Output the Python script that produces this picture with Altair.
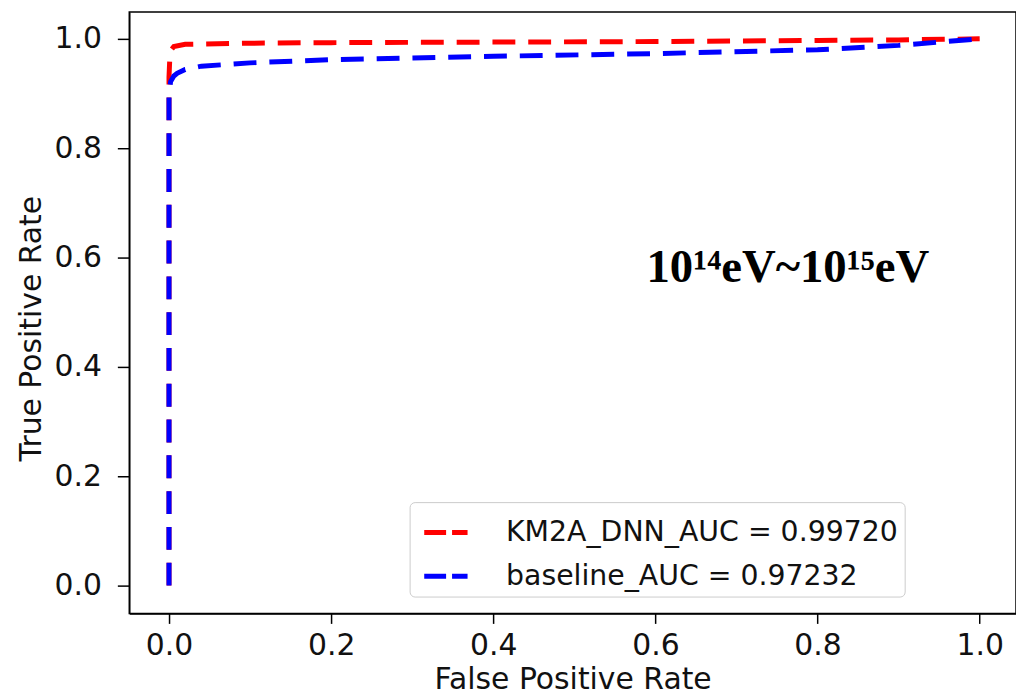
import altair as alt
import pandas as pd

# ROC curve points
dnn_fpr = [0.0, 0.0, 0.001, 0.003, 0.006, 0.02, 0.1, 0.2, 0.4, 0.6, 0.8, 0.9, 1.0]
dnn_tpr = [0.0, 0.93, 0.965, 0.980, 0.986, 0.990, 0.992, 0.993, 0.994, 0.995, 0.997, 0.998, 1.0]
base_fpr = [0.0, 0.0, 0.002, 0.006, 0.01, 0.02, 0.04, 0.1, 0.2, 0.4, 0.6, 0.8, 0.9, 1.0]
base_tpr = [0.0, 0.90, 0.922, 0.932, 0.937, 0.944, 0.950, 0.956, 0.962, 0.968, 0.973, 0.980, 0.988, 1.0]

series_names = ["KM2A_DNN_AUC = 0.99720", "baseline_AUC = 0.97232"]
series_colors = ["#ff0000", "#0000ff"]
tick_values = [0.0, 0.2, 0.4, 0.6, 0.8, 1.0]
annotation_text = ["10¹⁴eV~10¹⁵eV"]
annotation_x = [0.589]
annotation_y = [0.555]

rows = []
for i, (x, y) in enumerate(zip(dnn_fpr, dnn_tpr)):
    rows.append({"series": series_names[0], "fpr": x, "tpr": y, "idx": i})
for i, (x, y) in enumerate(zip(base_fpr, base_tpr)):
    rows.append({"series": series_names[1], "fpr": x, "tpr": y, "idx": i})
df = pd.DataFrame(rows)
ann = pd.DataFrame({"x": annotation_x, "y": annotation_y, "t": annotation_text})

xscale = alt.Scale(domain=[-0.049, 1.0448], nice=False, zero=False)
yscale = alt.Scale(domain=[-0.051, 1.049], nice=False, zero=False)
color = alt.Color(
    "series:N",
    scale=alt.Scale(domain=series_names, range=series_colors),
    legend=alt.Legend(
        title=None, orient="none", legendX=282, legendY=493,
        symbolType="stroke", symbolSize=1900, symbolStrokeWidth=5,
        symbolDash=[22, 6], symbolOffset=6, labelFontSize=28.5, labelFont="DejaVu Sans",
        labelColor="#111111", labelOffset=36, rowPadding=5,
        padding=6, fillColor="white", strokeColor="#cccccc",
        cornerRadius=5, labelLimit=700,
    ),
    sort=series_names,
)

xaxis = alt.Axis(values=tick_values, format=".1f", title="False Positive Rate",
                 grid=False, titlePadding=4, tickSize=10, labelPadding=7,
                 titleFontSize=30)
yaxis = alt.Axis(values=tick_values, format=".1f", title="True Positive Rate",
                 grid=False, titlePadding=8, tickSize=12, labelPadding=16,
                 titleY=318, titleFontSize=30)

def line_for(name):
    return alt.Chart(df).transform_filter(alt.datum.series == name).mark_line(
        strokeWidth=5, strokeDash=[23, 13], strokeCap="butt"
    ).encode(
        x=alt.X("fpr:Q", scale=xscale, axis=xaxis),
        y=alt.Y("tpr:Q", scale=yscale, axis=yaxis),
        color=color,
        order="idx:Q",
    )

text = alt.Chart(ann).mark_text(
    font="Liberation Serif", fontWeight="bold", fontSize=47,
    align="left", baseline="alphabetic", color="black",
).encode(x=alt.X("x:Q", scale=xscale), y=alt.Y("y:Q", scale=yscale), text="t:N")

chart = alt.layer(line_for(series_names[0]), line_for(series_names[1]), text).properties(
    width=892, height=605,
    autosize=alt.AutoSizeParams(type="none"),
    padding={"left": 122, "top": 2, "right": 0, "bottom": 83},
).configure_view(
    stroke="black", strokeWidth=1.5
).configure_axis(
    domainColor="black", domainWidth=1.5, tickColor="black", tickWidth=1.5,
    labelFont="DejaVu Sans", labelFontSize=30, labelColor="#111111",
    titleFont="DejaVu Sans", titleFontSize=32,
    titleFontWeight="normal", titleColor="#111111",
)

chart.save("out.html", embed_options={"renderer": "svg", "actions": False})
